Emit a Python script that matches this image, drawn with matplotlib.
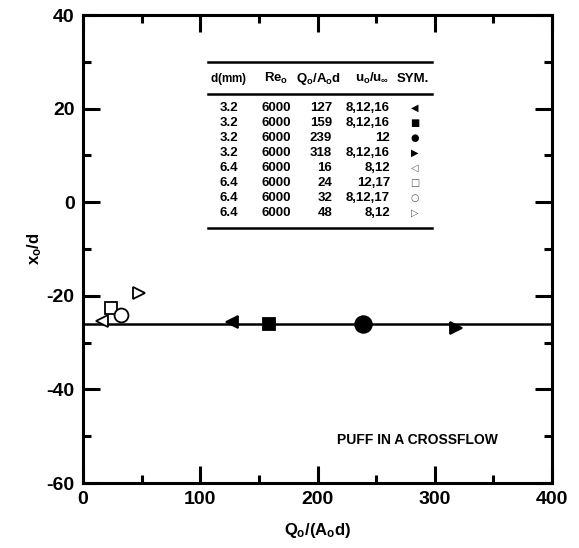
import matplotlib
matplotlib.use("Agg")
import matplotlib.pyplot as plt
from matplotlib.ticker import MultipleLocator

plt.rcParams['font.family'] = ['Liberation Sans', 'DejaVu Sans']
plt.rcParams['font.weight'] = 'bold'
plt.rcParams['axes.unicode_minus'] = False
plt.rcParams['mathtext.fontset'] = 'custom'
plt.rcParams['mathtext.rm'] = 'Liberation Sans:bold'
plt.rcParams['mathtext.it'] = 'Liberation Sans:bold'
plt.rcParams['mathtext.bf'] = 'Liberation Sans:bold'

# measured points
q_vals = [127, 159, 239, 318, 16, 24, 32, 48]
x_o = [-25.6, -26.1, -26.0, -26.8, -25.4, -22.5, -24.0, -19.5]
markers = ['<', 's', 'o', '>', '<', 's', 'o', '>']
filled = [True, True, True, True, False, False, False, False]
sizes = [9, 8, 12, 9, 9, 9, 10, 9]

# horizontal fit
fit_x = [0, 400]
fit_y = [-26, -26]

# table contents
d_mm = ['3.2', '3.2', '3.2', '3.2', '6.4', '6.4', '6.4', '6.4']
re_o = ['6000'] * 8
q_col = ['127', '159', '239', '318', '16', '24', '32', '48']
u_col = ['8,12,16', '8,12,16', '12', '8,12,16', '8,12', '12,17', '8,12,17', '8,12']
sym = ['\u25c0', '\u25a0', '\u25cf', '\u25b6', '\u25c1', '\u25a1', '\u25cb', '\u25b7']

fig = plt.figure(figsize=(5.79, 5.48), dpi=100)
ax = fig.add_axes([0.1434, 0.1186, 0.810, 0.854])

ax.plot(fit_x, fit_y, color='black', lw=1.8, zorder=2)
for q, x, m, f, s in zip(q_vals, x_o, markers, filled, sizes):
    ax.plot(q, x, marker=m, ms=s, color='black',
            mfc='black' if f else 'white', mec='black', mew=1.3,
            linestyle='none', zorder=3)

ax.set_xlim(0, 400)
ax.set_ylim(-60, 40)
ax.xaxis.set_major_locator(MultipleLocator(100))
ax.xaxis.set_minor_locator(MultipleLocator(50))
ax.yaxis.set_major_locator(MultipleLocator(20))
ax.yaxis.set_minor_locator(MultipleLocator(10))
ax.tick_params(which='both', direction='in', top=True, right=True, width=2.2,
               labelsize=14, pad=6)
ax.tick_params(which='major', length=12)
ax.tick_params(which='minor', length=6)
for sp in ax.spines.values():
    sp.set_linewidth(2.2)
for lab in ax.get_xticklabels() + ax.get_yticklabels():
    lab.set_fontweight('bold')

ax.set_xlabel(r'$Q_o/(A_od)$', fontsize=12, labelpad=9)
ax.set_ylabel(r'$x_o/d$', fontsize=12, labelpad=2)

# table
tx = dict(fontsize=9.5, fontweight='bold', va='center')
ax.plot([106.6, 297.7], [29.9, 29.9], color='black', lw=1.8)
ax.plot([106.6, 297.7], [23.1, 23.1], color='black', lw=1.8)
ax.plot([106.6, 297.7], [-5.6, -5.6], color='black', lw=1.8)
ax.text(124.5, 26.4, r'd$\mathregular{\mathbf{(mm)}}$', ha='center',
        **{**tx, 'fontsize': 8.5})
ax.text(164.6, 26.4, r'$Re_o$', ha='center', **tx)
ax.text(200.4, 26.4, r'$Q_o/A_od$', ha='center', **tx)
ax.text(246.5, 26.4, r'$u_o/u_\infty$', ha='center', **tx)
ax.text(281.5, 26.4, 'SYM.', ha='center', **tx)
row_y = 20.1
for a, b, c, d, e in zip(d_mm, re_o, q_col, u_col, sym):
    ax.text(124.5, row_y, a, ha='center', **tx)
    ax.text(164.6, row_y, b, ha='center', **tx)
    ax.text(212.4, row_y, c, ha='right', **tx)
    ax.text(261.8, row_y, d, ha='right', **tx)
    ax.text(283.2, row_y, e, ha='center', va='center', fontsize=7,
            family='DejaVu Sans', color='black' if e in sym[:4] else '#555555')
    row_y -= 3.2

ax.text(354, -50.9, 'PUFF IN A CROSSFLOW', ha='right', va='center',
        fontsize=10, fontweight='bold')

plt.savefig('out.png', dpi=100)
